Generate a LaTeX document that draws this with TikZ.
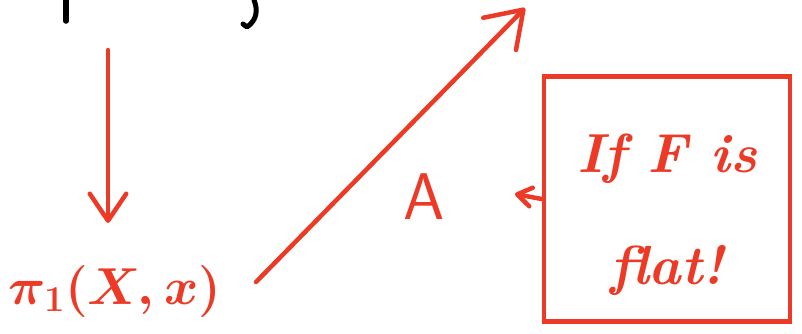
\RequirePackage{fix-cm}
\documentclass[tikz,border=0pt]{standalone}
\usepackage{amsmath}
\usepackage{fontspec}
\usepackage{xcolor}
\usetikzlibrary{arrows.meta, positioning, calc}
\definecolor{inkred}{RGB}{236, 58, 38}

\begin{document}
\begin{tikzpicture}[
          x=1pt, y=-1pt,
          ink/.style={line width=4.5pt, color=inkred, line cap=round, line join=round},
          arr/.style={ink, -{Straight Barb[length=#1, width=1.35*#1, line cap=round, line join=round]}},
          arr/.default=26pt,
          lbl/.style={text=inkred, inner sep=0pt},
        ]
        \useasboundingbox (0,0) rectangle (802,333);
        % cut-off strokes at the top
        \draw[line width=5.5pt, line cap=round] (66,0) -- (66,21);
        \draw[line width=5pt, line cap=round, line join=round]
              (254,0) .. controls (258,10) and (257,20) .. (247,27) -- (243,24);
        \node[lbl, font=\fontsize{52}{60}\selectfont\boldmath] (pi1) at (115,291) {$\pi_1(X,x)$};
        \node[lbl, font=\sffamily\fontsize{66}{70}\selectfont] (a) at (424,197) {A};
        \node[draw=inkred, line width=4.5pt, minimum width=246pt, minimum height=245pt] (cond) at (667,199) {};
        \node[lbl, align=center, font=\itshape\bfseries\fontsize{55}{112}\selectfont]
              (condtext) at ([yshift=-16pt]cond.center) {If F is\\flat!};
        \coordinate (top) at (108,50);
        \coordinate (down) at (108,223);
        \coordinate (start) at (256,282);
        \coordinate (tr) at (525,8);
        \coordinate (tip) at (515,194);
        \draw[arr=27pt] (top) -- (down);
        \draw[arr=34pt] (start) -- (tr);
        \draw[arr=14pt] (cond.west) -- (tip);
      \end{tikzpicture}
\end{document}
